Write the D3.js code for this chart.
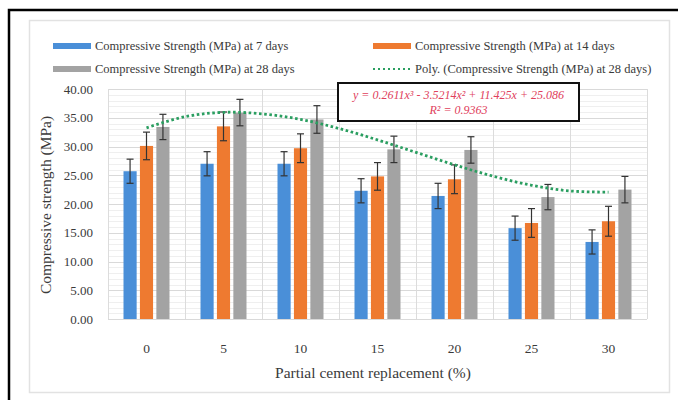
<!DOCTYPE html>
<html>
<head>
<meta charset="utf-8">
<script src="https://cdn.jsdelivr.net/npm/d3@7"></script>
<style>
html,body{margin:0;padding:0;background:#fff;}
svg{display:block;}
</style>
</head>
<body>
<svg id="chart" width="678" height="400"></svg>
<script>
// ---- data ----
const categories = ["0", "5", "10", "15", "20", "25", "30"];
const seriesNames = [
  "Compressive Strength (MPa) at 7 days",
  "Compressive Strength (MPa) at 14 days",
  "Compressive Strength (MPa) at 28 days"
];
const strength7 = [25.7, 27.0, 27.0, 22.3, 21.4, 15.8, 13.4];
const strength14 = [30.1, 33.5, 29.7, 24.8, 24.3, 16.7, 17.0];
const strength28 = [33.4, 35.9, 34.7, 29.5, 29.4, 21.2, 22.5];
const error7 = [2.1, 2.1, 2.1, 2.1, 2.2, 2.1, 2.1];
const error14 = [2.4, 2.5, 2.5, 2.4, 2.5, 2.5, 2.6];
const error28 = [2.2, 2.3, 2.4, 2.3, 2.3, 2.2, 2.3];
// trendline samples (from the displayed polynomial) at category positions 1..7 in half steps
const trendPos = [1, 1.5, 2, 2.5, 3, 3.5, 4, 4.5, 5, 5.5, 6, 6.5, 7];
const trendValues = [33.25, 35.18, 35.94, 35.68, 34.72, 33.13, 31.15, 28.98, 26.81, 24.84, 23.26, 22.27, 22.07];
const yTicks = [0, 5, 10, 15, 20, 25, 30, 35, 40];
const legendPoly = "Poly. (Compressive Strength (MPa) at 28 days)";
const equationText = "y = 0.2611x³ - 3.5214x² + 11.425x + 25.086";
const r2Text = "R² = 0.9363";
const xTitle = "Partial cement replacement (%)";
const yTitle = "Compressive strength (MPa)";

const colors = ["#4a8fd8", "#ee7a30", "#a3a3a3"];
const values = [strength7, strength14, strength28];
const errors = [error7, error14, error28];

const svg = d3.select("#chart");
const FONT = "'Liberation Serif', 'Times New Roman', serif";
const TXT = "#3a3a3a";

// frames
svg.append("rect").attr("x", 29.5).attr("y", 20.5).attr("width", 640).attr("height", 372)
  .attr("fill", "#fff").attr("stroke", "#e2e2e2").attr("stroke-width", 1.5);
svg.append("path").attr("d", "M9,400 V10 H678").attr("fill", "none")
  .attr("stroke", "#000").attr("stroke-width", 2.5);

const plot = {left: 108, right: 647, top: 89, bottom: 319};

const x = d3.scaleBand().domain(categories).range([plot.left, plot.right]).padding(0);
const xs = d3.scaleBand().domain(d3.range(3)).range([-23, 23]).paddingInner(0.2).paddingOuter(0);
const y = d3.scaleLinear().domain([0, 40]).range([plot.bottom, plot.top]);
const xPos = d3.scaleLinear().domain([1, 7])
  .range([x(categories[0]) + x.bandwidth() / 2, x(categories[6]) + x.bandwidth() / 2]);

// minor gridlines
const g = svg.append("g");
g.selectAll("line.minor").data(d3.range(0, 40.001, 1).filter(v => v % 5 !== 0))
  .join("line").attr("x1", plot.left).attr("x2", plot.right)
  .attr("y1", d => Math.round(y(d)) + 0.5).attr("y2", d => Math.round(y(d)) + 0.5)
  .attr("stroke", "#efefef").attr("stroke-width", 1);
// major horizontal gridlines
g.selectAll("line.major").data(yTicks).join("line")
  .attr("x1", plot.left).attr("x2", plot.right)
  .attr("y1", d => Math.round(y(d)) + 0.5).attr("y2", d => Math.round(y(d)) + 0.5)
  .attr("stroke", "#d9d9d9").attr("stroke-width", 1);
// vertical gridlines at category boundaries
const vb = categories.map(c => x(c)).concat([plot.right]);
g.selectAll("line.v").data(vb).join("line")
  .attr("x1", d => Math.round(d) + 0.5).attr("x2", d => Math.round(d) + 0.5)
  .attr("y1", plot.top).attr("y2", plot.bottom)
  .attr("stroke", "#dcdcdc").attr("stroke-width", 1);

// bars
categories.forEach((c, i) => {
  values.forEach((vals, s) => {
    const bx = x(c) + x.bandwidth() / 2 + xs(s);
    svg.append("rect").attr("x", bx).attr("y", y(vals[i]))
      .attr("width", xs.bandwidth()).attr("height", y(0) - y(vals[i]))
      .attr("fill", colors[s]);
  });
});
// error bars
categories.forEach((c, i) => {
  values.forEach((vals, s) => {
    const cx = x(c) + x.bandwidth() / 2 + xs(s) + xs.bandwidth() / 2;
    const top = y(vals[i] + errors[s][i]);
    const bot = y(vals[i] - errors[s][i]);
    const eg = svg.append("g").attr("stroke", "#333").attr("stroke-width", 1.2);
    eg.append("line").attr("x1", cx).attr("x2", cx).attr("y1", top).attr("y2", bot);
    eg.append("line").attr("x1", cx - 3.5).attr("x2", cx + 3.5).attr("y1", top).attr("y2", top);
    eg.append("line").attr("x1", cx - 3.5).attr("x2", cx + 3.5).attr("y1", bot).attr("y2", bot);
  });
});

// trendline
const line = d3.line().x(d => xPos(d[0])).y(d => y(d[1])).curve(d3.curveCatmullRom);
svg.append("path").datum(trendPos.map((p, i) => [p, trendValues[i]]))
  .attr("d", line).attr("fill", "none").attr("stroke", "#2a9e60")
  .attr("stroke-width", 2.8).attr("stroke-dasharray", "2.6,2.6");

// y axis labels
svg.selectAll("text.yt").data(yTicks).join("text")
  .attr("x", 93).attr("y", d => y(d)).attr("dy", "0.35em")
  .attr("text-anchor", "end").attr("font-family", FONT).attr("font-size", 13)
  .attr("fill", TXT).text(d => d.toFixed(2));
// x axis labels
svg.selectAll("text.xt").data(categories).join("text")
  .attr("x", d => x(d) + x.bandwidth() / 2).attr("y", 348).attr("dy", "0.35em")
  .attr("text-anchor", "middle").attr("font-family", FONT).attr("font-size", 13.5)
  .attr("fill", TXT).text(d => d);
// axis titles
svg.append("text").attr("x", 373).attr("y", 373).attr("dy", "0.35em")
  .attr("text-anchor", "middle").attr("font-family", FONT).attr("font-size", 15.5)
  .attr("fill", TXT).text(xTitle);
svg.append("text").attr("transform", "translate(46,205) rotate(-90)").attr("dy", "0.35em")
  .attr("text-anchor", "middle").attr("font-family", FONT).attr("font-size", 15.5)
  .attr("fill", TXT).text(yTitle);

// legend
const legendItems = [
  {x: 53, y: 46, type: "rect", color: colors[0], text: seriesNames[0]},
  {x: 373, y: 46, type: "rect", color: colors[1], text: seriesNames[1]},
  {x: 53, y: 69, type: "rect", color: colors[2], text: seriesNames[2]},
  {x: 373, y: 69, type: "dot", color: "#2a9e60", text: legendPoly}
];
legendItems.forEach(it => {
  if (it.type === "rect") {
    svg.append("rect").attr("x", it.x).attr("y", it.y - 3).attr("width", 38).attr("height", 6)
      .attr("fill", it.color);
  } else {
    svg.append("line").attr("x1", it.x).attr("x2", it.x + 38).attr("y1", it.y).attr("y2", it.y)
      .attr("stroke", it.color).attr("stroke-width", 2).attr("stroke-dasharray", "2,3");
  }
  svg.append("text").attr("x", it.x + 42).attr("y", it.y).attr("dy", "0.35em")
    .attr("font-family", FONT).attr("font-size", 12.5).attr("fill", TXT).text(it.text);
});

// equation box
svg.append("rect").attr("x", 338).attr("y", 83).attr("width", 241).attr("height", 38)
  .attr("fill", "#fff").attr("stroke", "#111").attr("stroke-width", 2);
svg.append("text").attr("x", 458.5).attr("y", 95).attr("dy", "0.35em")
  .attr("text-anchor", "middle").attr("font-family", FONT).attr("font-style", "italic")
  .attr("font-size", 12).attr("fill", "#e0405c").text(equationText);
svg.append("text").attr("x", 458.5).attr("y", 110).attr("dy", "0.35em")
  .attr("text-anchor", "middle").attr("font-family", FONT).attr("font-style", "italic")
  .attr("font-size", 12).attr("fill", "#e0405c").text(r2Text);
</script>
</body>
</html>
